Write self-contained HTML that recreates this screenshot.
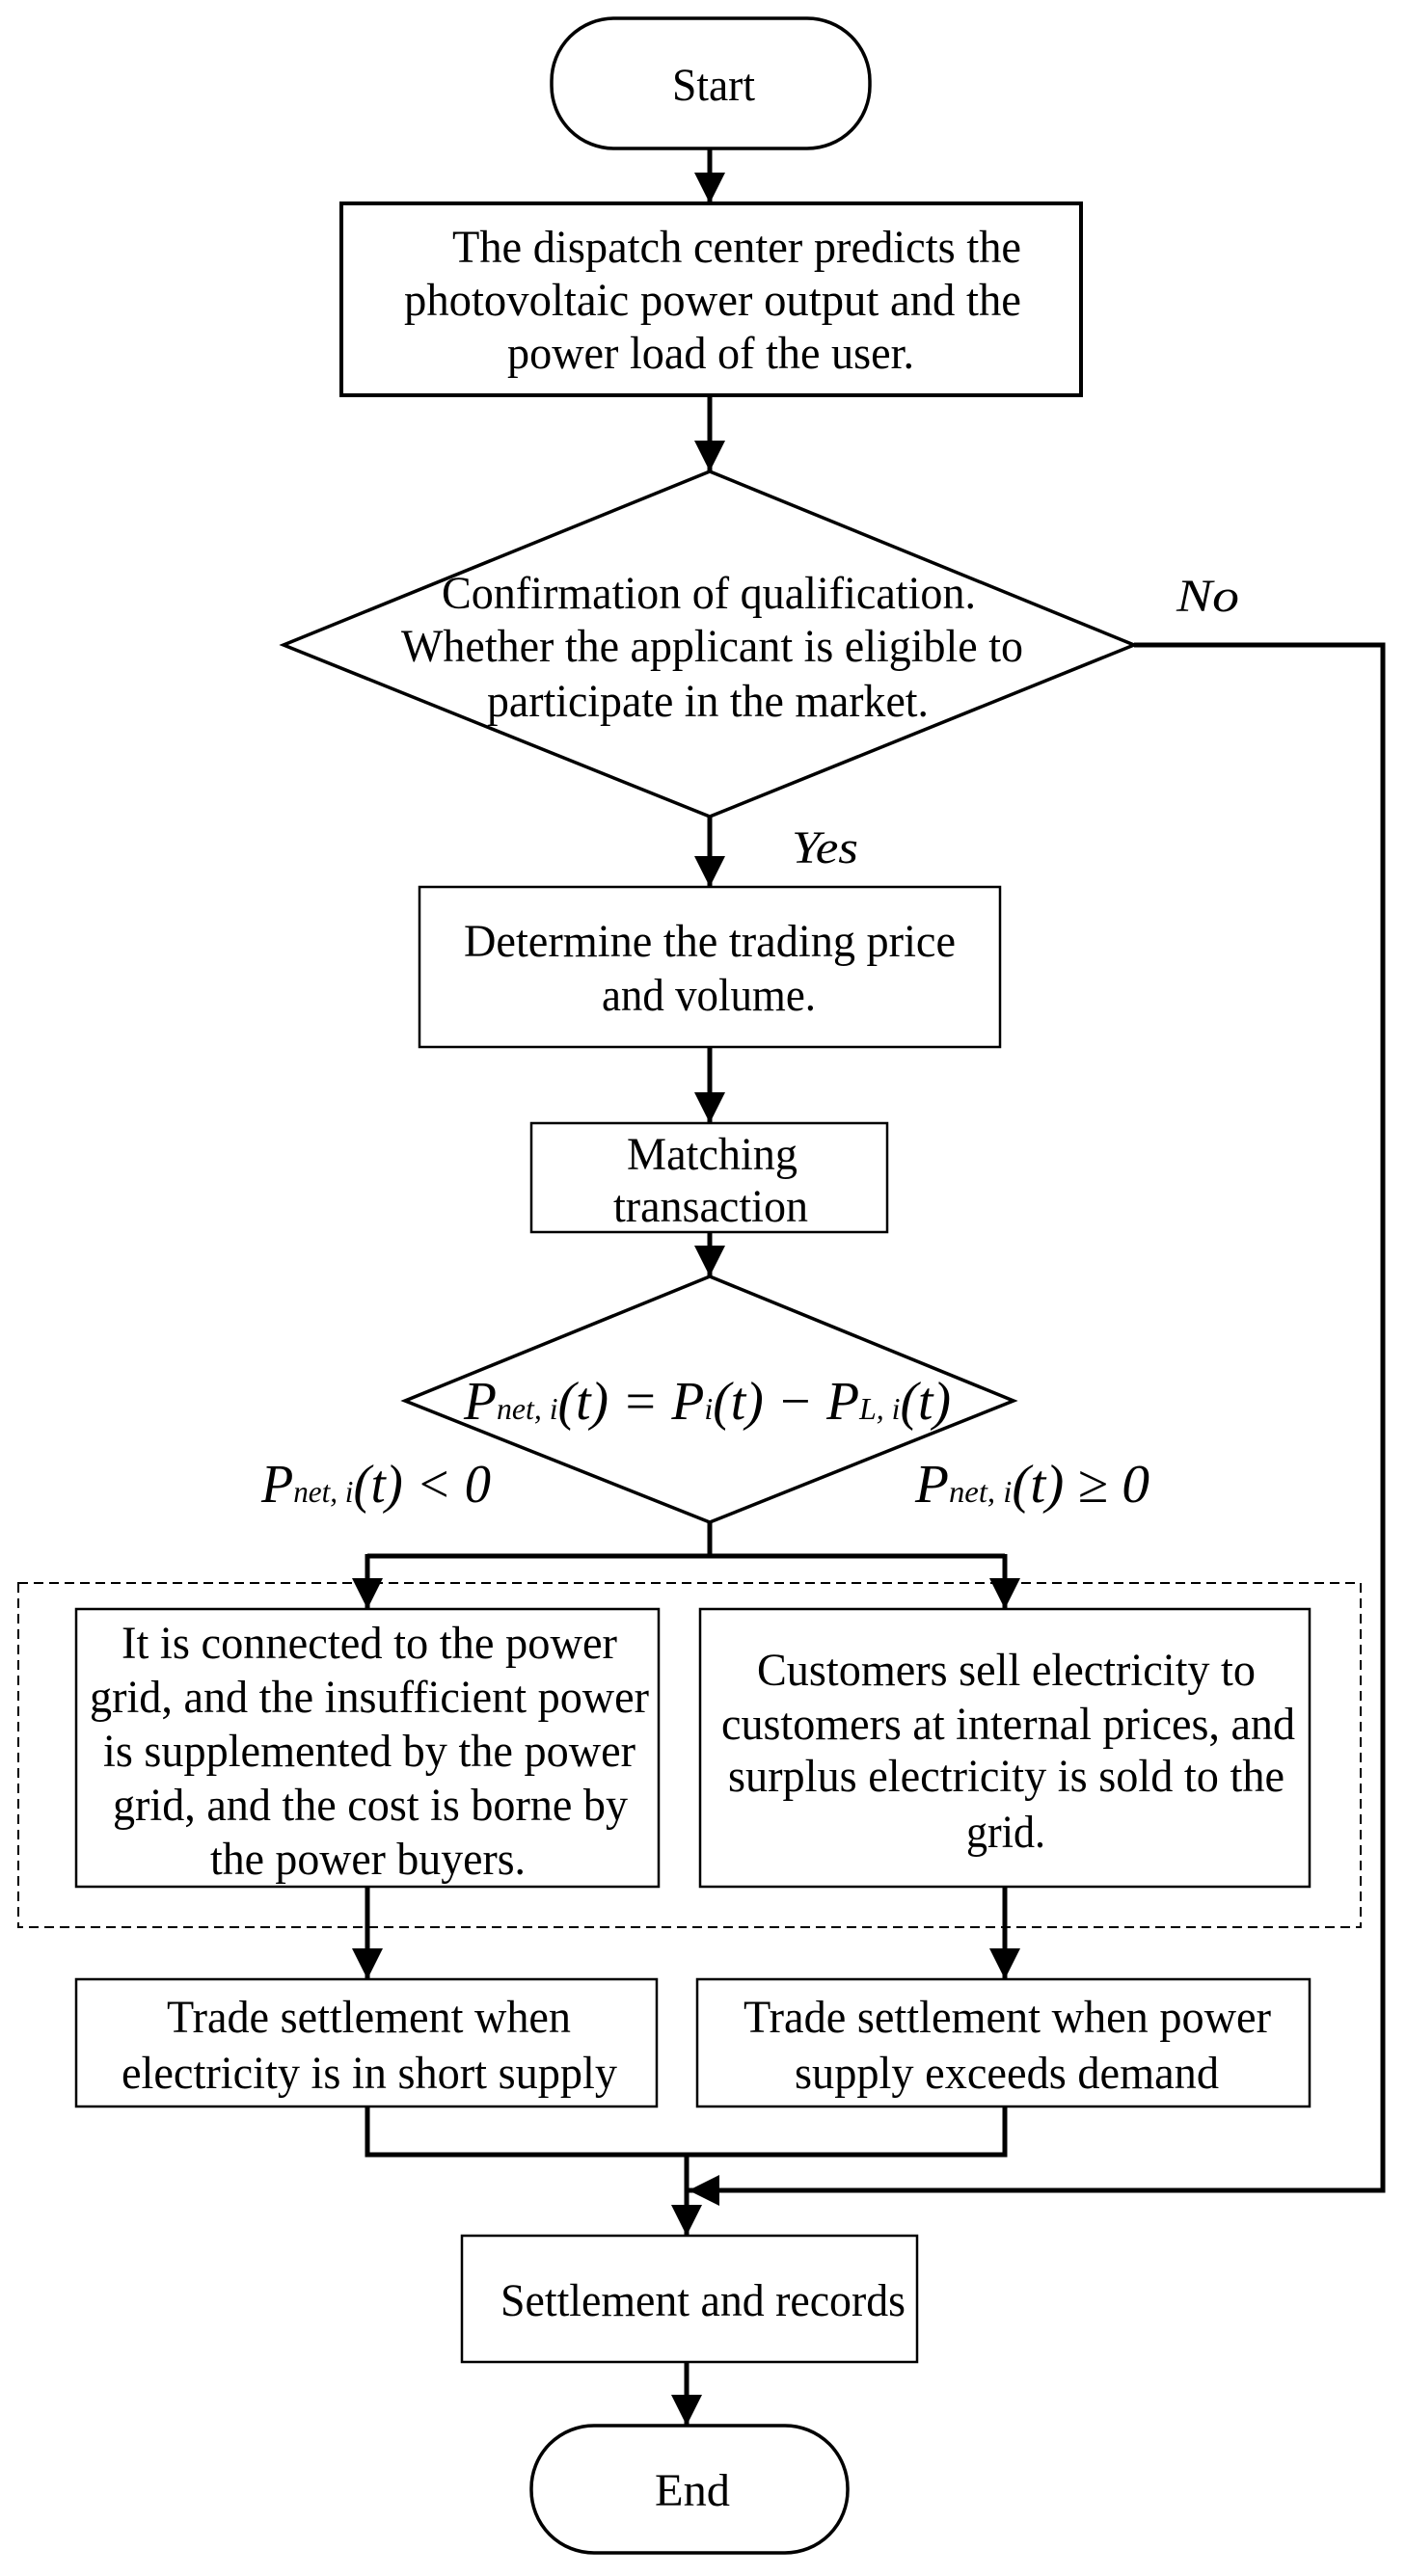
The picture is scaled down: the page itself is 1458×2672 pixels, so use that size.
<!DOCTYPE html>
<html><head><meta charset="utf-8"><style>
html,body{margin:0;padding:0;background:#fff;}
svg{display:block;}
text{font-family:"Liberation Serif",serif;font-size:48px;fill:#000;}
.i{font-style:italic;}
</style></head><body>
<svg width="1458" height="2672" viewBox="0 0 1458 2672" xmlns="http://www.w3.org/2000/svg">
<defs>
<marker id="ah" markerWidth="32" markerHeight="32" refX="32" refY="16" orient="auto" markerUnits="userSpaceOnUse">
<path d="M0,0 L32,16 L0,32 Z" fill="#000"/>
</marker>
</defs>
<g fill="none" stroke="#000">
<rect x="572" y="19" width="330" height="135" rx="65" ry="65" stroke-width="3.5"/>
<rect x="354" y="211" width="767" height="199" stroke-width="4"/>
<polygon points="736,489 1176,669 736,847 294,669" stroke-width="3.5"/>
<rect x="435" y="920" width="602" height="166" stroke-width="2.5"/>
<rect x="551" y="1165" width="369" height="113" stroke-width="2.5"/>
<polygon points="736,1324 1051,1453 736,1579 420,1453" stroke-width="3.5"/>
<rect x="19" y="1642" width="1392" height="357" stroke-width="2" stroke-dasharray="10,6"/>
<rect x="79" y="1669" width="604" height="288" stroke-width="2.5"/>
<rect x="726" y="1669" width="632" height="288" stroke-width="2.5"/>
<rect x="79" y="2053" width="602" height="132" stroke-width="2.5"/>
<rect x="723" y="2053" width="635" height="132" stroke-width="2.5"/>
<rect x="479" y="2319" width="472" height="131" stroke-width="2.5"/>
<rect x="551" y="2516" width="328" height="132" rx="65" ry="65" stroke-width="3.5"/>

<g stroke-width="5">
<line x1="736" y1="154" x2="736" y2="211" marker-end="url(#ah)"/>
<line x1="736" y1="410" x2="736" y2="489" marker-end="url(#ah)"/>
<line x1="736" y1="847" x2="736" y2="920" marker-end="url(#ah)"/>
<line x1="736" y1="1086" x2="736" y2="1165" marker-end="url(#ah)"/>
<line x1="736" y1="1278" x2="736" y2="1324" marker-end="url(#ah)"/>
<polyline points="736,1579 736,1614"/>
<polyline points="381,1614 1042,1614"/>
<line x1="381" y1="1612" x2="381" y2="1669" marker-end="url(#ah)"/>
<line x1="1042" y1="1612" x2="1042" y2="1669" marker-end="url(#ah)"/>
<line x1="381" y1="1957" x2="381" y2="2053" marker-end="url(#ah)"/>
<line x1="1042" y1="1957" x2="1042" y2="2053" marker-end="url(#ah)"/>
<polyline points="381,2185 381,2235 1042,2235 1042,2185"/>
<line x1="712" y1="2235" x2="712" y2="2319" marker-end="url(#ah)"/>
<polyline points="1176,669 1434,669 1434,2272 760,2272"/>
<line x1="1434" y1="2272" x2="714" y2="2272" marker-end="url(#ah)"/>
<line x1="712" y1="2450" x2="712" y2="2516" marker-end="url(#ah)"/>
</g>
</g>

<text x="697" y="104" textLength="86" lengthAdjust="spacingAndGlyphs">Start</text>
<text x="469" y="272" textLength="590" lengthAdjust="spacingAndGlyphs">The dispatch center predicts the</text>
<text x="419" y="327" textLength="640" lengthAdjust="spacingAndGlyphs">photovoltaic power output and the</text>
<text x="526" y="382" textLength="422" lengthAdjust="spacingAndGlyphs">power load of the user.</text>

<text x="458" y="631" textLength="554" lengthAdjust="spacingAndGlyphs">Confirmation of qualification.</text>
<text x="416" y="686" textLength="645" lengthAdjust="spacingAndGlyphs">Whether the applicant is eligible to</text>
<text x="505" y="743" textLength="458" lengthAdjust="spacingAndGlyphs">participate in the market.</text>
<text class="i" x="1220" y="634" textLength="65" lengthAdjust="spacingAndGlyphs">No</text>
<text class="i" x="821" y="895" textLength="69" lengthAdjust="spacingAndGlyphs">Yes</text>

<text x="481" y="992" textLength="510" lengthAdjust="spacingAndGlyphs">Determine the trading price</text>
<text x="624" y="1048" textLength="222" lengthAdjust="spacingAndGlyphs">and volume.</text>
<text x="650" y="1213" textLength="177" lengthAdjust="spacingAndGlyphs">Matching</text>
<text x="636" y="1267" textLength="202" lengthAdjust="spacingAndGlyphs">transaction</text>

<text class="i" x="481" y="1472" textLength="505" lengthAdjust="spacingAndGlyphs" style="font-size:56px">P<tspan font-size="32">net, i</tspan>(t) = P<tspan font-size="32">i</tspan>(t) − P<tspan font-size="32">L, i</tspan>(t)</text>
<text class="i" x="271" y="1558" textLength="238" lengthAdjust="spacingAndGlyphs" style="font-size:56px">P<tspan font-size="32">net, i</tspan>(t) &lt; 0</text>
<text class="i" x="949" y="1558" textLength="243" lengthAdjust="spacingAndGlyphs" style="font-size:56px">P<tspan font-size="32">net, i</tspan>(t) ≥ 0</text>

<text x="126" y="1720" textLength="514" lengthAdjust="spacingAndGlyphs">It is connected to the power</text>
<text x="93" y="1776" textLength="580" lengthAdjust="spacingAndGlyphs">grid, and the insufficient power</text>
<text x="107" y="1832" textLength="552" lengthAdjust="spacingAndGlyphs">is supplemented by the power</text>
<text x="117" y="1888" textLength="534" lengthAdjust="spacingAndGlyphs">grid, and the cost is borne by</text>
<text x="218" y="1944" textLength="327" lengthAdjust="spacingAndGlyphs">the power buyers.</text>

<text x="785" y="1748" textLength="517" lengthAdjust="spacingAndGlyphs">Customers sell electricity to</text>
<text x="748" y="1804" textLength="595" lengthAdjust="spacingAndGlyphs">customers at internal prices, and</text>
<text x="755" y="1858" textLength="577" lengthAdjust="spacingAndGlyphs">surplus electricity is sold to the</text>
<text x="1002" y="1916" textLength="82" lengthAdjust="spacingAndGlyphs">grid.</text>

<text x="173" y="2108" textLength="419" lengthAdjust="spacingAndGlyphs">Trade settlement when</text>
<text x="126" y="2166" textLength="514" lengthAdjust="spacingAndGlyphs">electricity is in short supply</text>
<text x="771" y="2108" textLength="547" lengthAdjust="spacingAndGlyphs">Trade settlement when power</text>
<text x="824" y="2166" textLength="440" lengthAdjust="spacingAndGlyphs">supply exceeds demand</text>

<text x="519" y="2402" textLength="420" lengthAdjust="spacingAndGlyphs">Settlement and records</text>
<text x="679" y="2599" textLength="78" lengthAdjust="spacingAndGlyphs">End</text>
</svg>
</body></html>
